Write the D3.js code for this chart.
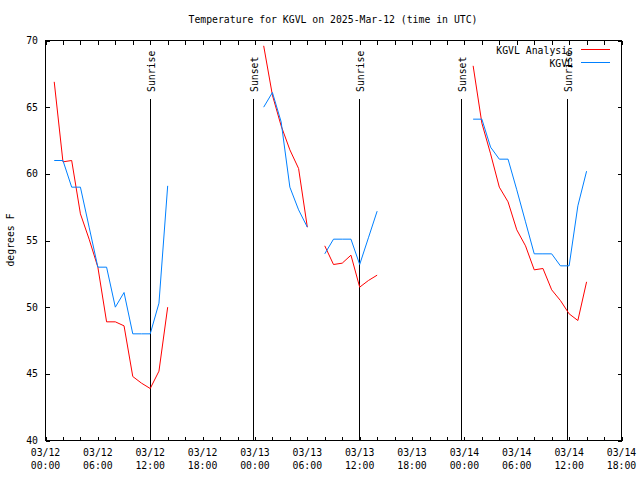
<!DOCTYPE html>
<html><head><meta charset="utf-8">
<script src="https://cdn.jsdelivr.net/npm/d3@7"></script>
<style>
body{margin:0;background:#fff}
text{font-family:"DejaVu Sans Mono",monospace;font-size:9.8px;fill:#000}
</style>
</head><body>
<svg id="c" width="640" height="480"></svg>
<script>
// ---- data ----
const titleText = "Temperature for KGVL on 2025-Mar-12 (time in UTC)";
const yLabel = "degrees F";
const startTime = "2025-03-12T00:00:00Z";
const endTime = "2025-03-14T18:00:00Z";
const yTicks = [40, 45, 50, 55, 60, 65, 70];
const seriesNames = ["KGVL Analysis", "KGVL"];
// hours after 2025-03-12 00:00 UTC (null temps break the line)
const hours = [1,2,3,4,5,6,7,8,9,10,11,12,13,14,15,
               25,26,27,28,29,30,31,
               32,33,34,35,36,37,38,39,
               49,50,51,52,53,54,55,56,57,58,59,60,61,62];
const analysisTemps = [66.9,60.9,61.0,57.0,55.1,53.0,48.9,48.9,48.6,44.8,44.3,43.9,45.2,50.0,null,
                       69.6,65.9,63.6,61.8,60.4,56.0,null,
                       54.6,53.2,53.3,53.9,51.5,52.0,52.4,null,
                       68.1,63.8,61.5,59.0,57.9,55.8,54.6,52.8,52.9,51.3,50.5,49.5,49.0,51.9];
const obsTemps = [61.0,61.0,59.0,59.0,56.0,53.0,53.0,50.0,51.1,48.0,48.0,48.0,50.3,59.1,null,
                  65.0,66.1,63.9,59.0,57.3,56.0,null,
                  54.0,55.1,55.1,55.1,53.2,55.2,57.2,null,
                  64.1,64.1,62.0,61.1,61.1,58.8,56.4,54.0,54.0,54.0,53.1,53.1,57.6,60.2];
const sunriseTimes = ["2025-03-12T12:01:00Z", "2025-03-13T11:52:00Z", "2025-03-14T11:47:00Z"];
const sunsetTimes = ["2025-03-12T23:45:00Z", "2025-03-13T23:39:00Z"];

// ---- layout ----
const L = 45.5, R = 621.5, T = 40.5, B = 440.5;
const svg = d3.select("#c");
const t0 = new Date(startTime);
const x = d3.scaleUtc().domain([t0, new Date(endTime)]).range([L, R]);
const y = d3.scaleLinear().domain([40, 70]).range([B, T]);
const hourDate = h => new Date(t0.getTime() + h * 3600e3);

// title
svg.append("text").attr("x", 333).attr("y", 23).attr("text-anchor", "middle").text(titleText);
// y label
svg.append("text").attr("transform", "translate(10.5,240) rotate(-90)")
  .attr("text-anchor", "middle").attr("dy", "0.35em").text(yLabel);

// ticks (inward)
const tick2h = d3.utcHour.every(2).range(x.domain()[0], new Date(x.domain()[1].getTime() + 1));
const gB = svg.append("g").attr("transform", `translate(0,${B})`)
  .call(d3.axisBottom(x).tickValues(tick2h).tickSize(-4).tickFormat(""));
const gT = svg.append("g").attr("transform", `translate(0,${T})`)
  .call(d3.axisTop(x).tickValues(tick2h).tickSize(-4).tickFormat(""));
const gL = svg.append("g").attr("transform", `translate(${L},0)`)
  .call(d3.axisLeft(y).tickValues(yTicks).tickSize(-4).tickFormat(""));
const gR = svg.append("g").attr("transform", `translate(${R},0)`)
  .call(d3.axisRight(y).tickValues(yTicks).tickSize(-4).tickFormat(""));
[gB, gT, gL, gR].forEach(g => {
  g.select(".domain").remove();
  g.selectAll("line").attr("stroke", "#000").attr("shape-rendering", "crispEdges");
});

// y tick labels
svg.append("g").selectAll("text").data(yTicks).join("text")
  .attr("x", 38).attr("y", d => y(d)).attr("dy", "0.35em").attr("text-anchor", "end").text(d => d);

// x tick labels every 6h
const tick6h = d3.utcHour.every(6).range(x.domain()[0], new Date(x.domain()[1].getTime() + 1));
const fd = d3.utcFormat("%m/%d"), fh = d3.utcFormat("%H:%M");
const xl = svg.append("g").selectAll("g").data(tick6h).join("g");
xl.append("text").attr("x", d => x(d)).attr("y", 455.5).attr("text-anchor", "middle").text(fd);
xl.append("text").attr("x", d => x(d)).attr("y", 468.5).attr("text-anchor", "middle").text(fh);

// border
svg.append("rect").attr("x", L).attr("y", T).attr("width", R - L).attr("height", B - T)
  .attr("fill", "none").attr("stroke", "#000").attr("shape-rendering", "crispEdges");

// sun lines
function sunLine(t, label) {
  const xx = Math.round(x(new Date(t))) + 0.5;
  svg.append("line").attr("x1", xx).attr("x2", xx).attr("y1", 99).attr("y2", B)
    .attr("stroke", "#000").attr("shape-rendering", "crispEdges");
  svg.append("text").attr("transform", `translate(${xx + 1.5},92) rotate(-90)`)
    .attr("dy", "0.35em").attr("text-anchor", "start").text(label);
}
sunriseTimes.forEach(t => sunLine(t, "Sunrise"));
sunsetTimes.forEach(t => sunLine(t, "Sunset"));

// data lines
const colors = ["#ff0000", "#0080ff"];
const line = d3.line().defined(d => d[1] != null).x(d => x(hourDate(d[0]))).y(d => y(d[1]));
[analysisTemps, obsTemps].forEach((vals, i) => {
  svg.append("path").datum(hours.map((h, j) => [h, vals[j]]))
    .attr("d", line).attr("fill", "none").attr("stroke", colors[i]).attr("stroke-width", 1);
});

// legend
seriesNames.forEach((name, i) => {
  const yy = 49.5 + i * 13;
  svg.append("text").attr("x", 573).attr("y", yy + 4).attr("text-anchor", "end").text(name);
  svg.append("line").attr("x1", 581).attr("x2", 610).attr("y1", yy).attr("y2", yy)
    .attr("stroke", colors[i]).attr("shape-rendering", "crispEdges");
});
</script>
</body></html>
